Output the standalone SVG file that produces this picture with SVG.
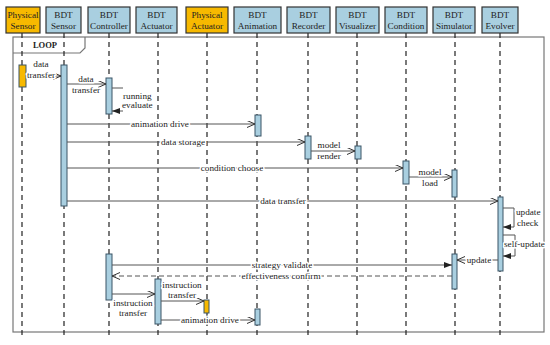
<svg xmlns="http://www.w3.org/2000/svg" width="550" height="345" viewBox="0 0 550 345">
<defs>
<style>
.hdr{stroke:#333;stroke-width:1.2}
.blue{fill:#a9cfe0}
.orange{fill:#f7b900}
.ht{font-family:"Liberation Serif","Times New Roman",serif;font-size:9.2px;fill:#222;text-anchor:middle}
.life{stroke:#222;stroke-width:1.2;stroke-dasharray:5,4;fill:none}
.bar{stroke:#3a5566;stroke-width:1}
.msg{stroke:#555;stroke-width:1;fill:none}
.dash{stroke-dasharray:5,3}
.lbl{font-family:"Liberation Serif","Times New Roman",serif;font-size:9.2px;fill:#222;text-anchor:middle;paint-order:stroke;stroke:#fff;stroke-width:3px;stroke-linejoin:round}
.ls{text-anchor:start}
.frame{fill:none;stroke:#777;stroke-width:1.2}
</style>
<marker id="open" markerUnits="userSpaceOnUse" markerWidth="9" markerHeight="8" refX="8" refY="3.5" orient="auto">
<path d="M0,0 L8,3.5 L0,7" fill="none" stroke="#333" stroke-width="1"/>
</marker>
<marker id="fill" markerUnits="userSpaceOnUse" markerWidth="9" markerHeight="8" refX="8" refY="3" orient="auto">
<path d="M0,0 L8,3 L0,6 Z" fill="#222"/>
</marker>
</defs>
<rect width="550" height="345" fill="#fff"/>

<g id="loop-frame">
<rect class="frame" x="13" y="37" width="531" height="295"/>
<path class="frame" d="M13,53 L80,53 L85,48 L85,37"/>
<text x="45" y="48" font-family="Liberation Serif, serif" font-size="8.5" font-weight="bold" text-anchor="middle" fill="#222">LOOP</text>
</g>

<g id="lifelines">
<line class="life" x1="22" y1="33" x2="22" y2="337"/>
<line class="life" x1="64" y1="33" x2="64" y2="337"/>
<line class="life" x1="109" y1="33" x2="109" y2="337"/>
<line class="life" x1="158" y1="33" x2="158" y2="337"/>
<line class="life" x1="207" y1="33" x2="207" y2="337"/>
<line class="life" x1="257" y1="33" x2="257" y2="337"/>
<line class="life" x1="308" y1="33" x2="308" y2="337"/>
<line class="life" x1="357" y1="33" x2="357" y2="337"/>
<line class="life" x1="406" y1="33" x2="406" y2="337"/>
<line class="life" x1="455" y1="33" x2="455" y2="337"/>
<line class="life" x1="500" y1="33" x2="500" y2="337"/>
</g>

<g id="n-physical-sensor">
<rect class="hdr orange" x="6" y="7" width="34" height="26"/>
<text class="ht" x="23" y="18">Physical</text><text class="ht" x="23" y="29">Sensor</text>
</g>
<g id="n-bdt-sensor">
<rect class="hdr blue" x="46" y="7" width="35" height="26"/>
<text class="ht" x="63.5" y="18">BDT</text><text class="ht" x="63.5" y="29">Sensor</text>
</g>
<g id="n-bdt-controller">
<rect class="hdr blue" x="88" y="7" width="42" height="26"/>
<text class="ht" x="109" y="18">BDT</text><text class="ht" x="109" y="29">Controller</text>
</g>
<g id="n-bdt-actuator">
<rect class="hdr blue" x="136" y="7" width="41" height="26"/>
<text class="ht" x="156.5" y="18">BDT</text><text class="ht" x="156.5" y="29">Actuator</text>
</g>
<g id="n-physical-actuator">
<rect class="hdr orange" x="186" y="7" width="42" height="26"/>
<text class="ht" x="207" y="18">Physical</text><text class="ht" x="207" y="29">Actuator</text>
</g>
<g id="n-bdt-animation">
<rect class="hdr blue" x="234" y="7" width="47" height="26"/>
<text class="ht" x="257.5" y="18">BDT</text><text class="ht" x="257.5" y="29">Animation</text>
</g>
<g id="n-bdt-recorder">
<rect class="hdr blue" x="287" y="7" width="43" height="26"/>
<text class="ht" x="308.5" y="18">BDT</text><text class="ht" x="308.5" y="29">Recorder</text>
</g>
<g id="n-bdt-visualizer">
<rect class="hdr blue" x="336" y="7" width="43" height="26"/>
<text class="ht" x="357.5" y="18">BDT</text><text class="ht" x="357.5" y="29">Visualizer</text>
</g>
<g id="n-bdt-condition">
<rect class="hdr blue" x="385" y="7" width="42" height="26"/>
<text class="ht" x="406" y="18">BDT</text><text class="ht" x="406" y="29">Condition</text>
</g>
<g id="n-bdt-simulator">
<rect class="hdr blue" x="433" y="7" width="42" height="26"/>
<text class="ht" x="454" y="18">BDT</text><text class="ht" x="454" y="29">Simulator</text>
</g>
<g id="n-bdt-evolver">
<rect class="hdr blue" x="482" y="7" width="36" height="26"/>
<text class="ht" x="500" y="18">BDT</text><text class="ht" x="500" y="29">Evolver</text>
</g>

<g id="activations">
<rect class="bar orange" x="19" y="65" width="7" height="22"/>
<rect class="bar blue" x="61" y="65" width="6" height="141"/>
<rect class="bar blue" x="106" y="78" width="6" height="36"/>
<rect class="bar blue" x="255" y="115" width="6" height="21"/>
<rect class="bar blue" x="305" y="136" width="6" height="23"/>
<rect class="bar blue" x="355" y="146" width="6" height="13"/>
<rect class="bar blue" x="403" y="161" width="6" height="23"/>
<rect class="bar blue" x="452" y="170" width="5" height="27"/>
<rect class="bar blue" x="498" y="197" width="5" height="74"/>
<rect class="bar blue" x="452" y="254" width="5" height="35"/>
<rect class="bar blue" x="106" y="254" width="6" height="46"/>
<rect class="bar blue" x="155" y="279" width="6" height="45"/>
<rect class="bar orange" x="204" y="300" width="5" height="13"/>
<rect class="bar blue" x="255" y="309" width="5" height="16"/>
</g>

<g id="connectors">
<line class="msg" x1="26" y1="76" x2="61" y2="76" marker-end="url(#open)"/>
<text class="lbl" x="41" y="67">data</text><text class="lbl" x="41" y="78">transfer</text>

<line class="msg" x1="67" y1="84" x2="106" y2="84" marker-end="url(#open)"/>
<text class="lbl" x="86" y="82">data</text><text class="lbl" x="86" y="93">transfer</text>

<line class="msg" x1="112" y1="88" x2="123" y2="88"/>
<line class="msg" x1="123" y1="111" x2="112" y2="111" marker-end="url(#fill)"/>
<text class="lbl ls" x="123" y="99">running</text><text class="lbl ls" x="122" y="108">evaluate</text>

<line class="msg" x1="67" y1="124" x2="255" y2="124" marker-end="url(#open)"/>
<text class="lbl" x="160" y="127">animation drive</text>

<line class="msg" x1="67" y1="142" x2="305" y2="142" marker-end="url(#open)"/>
<text class="lbl" x="183" y="145">data storage</text>

<line class="msg" x1="311" y1="151" x2="355" y2="151" marker-end="url(#open)"/>
<text class="lbl" x="329" y="148">model</text><text class="lbl" x="329" y="159">render</text>

<line class="msg" x1="67" y1="168" x2="403" y2="168" marker-end="url(#open)"/>
<text class="lbl" x="232" y="171">condition choose</text>

<line class="msg" x1="409" y1="177" x2="452" y2="177" marker-end="url(#open)"/>
<text class="lbl" x="430" y="175">model</text><text class="lbl" x="430" y="186">load</text>

<line class="msg" x1="67" y1="201" x2="498" y2="201" marker-end="url(#open)"/>
<text class="lbl" x="283" y="204">data transfer</text>

<polyline class="msg" points="503,208 514,208 514,227 503,227" marker-end="url(#fill)"/>
<text class="lbl ls" x="516" y="215">update</text><text class="lbl ls" x="517" y="226">check</text>

<polyline class="msg" points="503,235 515,235 515,256 503,256" marker-end="url(#fill)"/>
<text class="lbl ls" x="504" y="247">self-update</text>

<line class="msg" x1="498" y1="260" x2="457" y2="260" marker-end="url(#open)"/>
<text class="lbl" x="479" y="263">update</text>

<line class="msg" x1="112" y1="265" x2="452" y2="265" marker-end="url(#fill)"/>
<text class="lbl" x="282" y="268">strategy validate</text>

<line class="msg dash" x1="452" y1="276" x2="112" y2="276" marker-end="url(#open)"/>
<text class="lbl" x="281" y="279">effectiveness confirm</text>

<line class="msg" x1="112" y1="294" x2="155" y2="294" marker-end="url(#open)"/>
<text class="lbl" x="133" y="306">instruction</text><text class="lbl" x="133" y="316">transfer</text>

<line class="msg" x1="161" y1="301" x2="204" y2="301" marker-end="url(#open)"/>
<text class="lbl" x="182" y="288">instruction</text><text class="lbl" x="182" y="298">transfer</text>

<line class="msg" x1="161" y1="320" x2="255" y2="320" marker-end="url(#open)"/>
<text class="lbl" x="210" y="323">animation drive</text>
</g>
</svg>
